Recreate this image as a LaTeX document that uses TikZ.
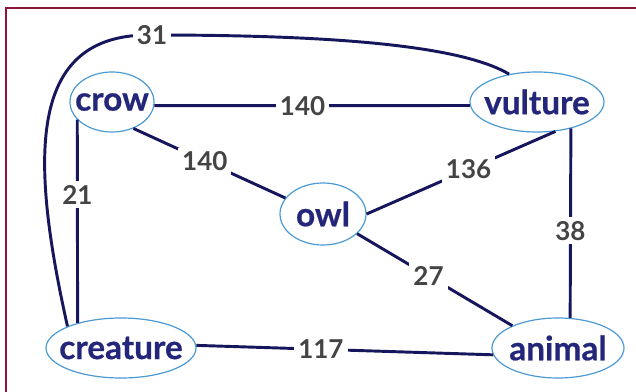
\documentclass[tikz,border=0pt]{standalone}
\usepackage{fontspec}
\setmainfont{Lato}
\newfontfamily\namefont[BoldFeatures={FakeBold=0.6}]{Lato}
\usetikzlibrary{shapes.geometric}
\definecolor{framecolor}{HTML}{8C1538}
\definecolor{edgecolor}{HTML}{16165C}
\definecolor{ringcolor}{HTML}{4C9AD4}
\definecolor{namecolor}{HTML}{24267A}
\definecolor{weightcolor}{HTML}{444444}
\tikzset{
  animalnode/.style={ellipse, draw=ringcolor, line width=0.9pt, inner xsep=-12pt,
    inner ysep=0pt, minimum height=45pt, text=namecolor,
    font=\namefont\bfseries\fontsize{25}{30}\selectfont},
  link/.style={draw=edgecolor, line width=2.2pt},
  weight/.style={fill=white, inner sep=3pt, text=weightcolor,
    font=\bfseries\fontsize{19.5}{22}\selectfont}
}

\begin{document}
\begin{tikzpicture}[x=0.75pt, y=-0.75pt]
  \useasboundingbox (0,0) rectangle (636,392);
  \clip (0,0) rectangle (636,392);
  \fill[white] (0,0) rectangle (636,392);
  \draw[framecolor, line width=2.2pt] (6,8) rectangle (660,420);

  % === ANIMALS ===
  \node[animalnode, minimum width=63pt] (crow) at (112,102) {crow};
  \node[animalnode, minimum width=100.5pt] (vulture) at (537,102) {vulture};
  \node[animalnode, minimum width=64.5pt, minimum height=46.5pt] (owl) at (323,214) {owl};
  \node[animalnode, minimum width=112.5pt] (creature) at (121,348) {creature};
  \node[animalnode, minimum width=99pt] (animal) at (558,348) {animal};

  \coordinate (top31) at (152,35);

  % === WEIGHTED LINKS ===
  \draw[link] (crow.355) -- node[weight, pos=0.47] (w-cv) {140} (vulture.183);
  \draw[link] (crow.309) -- node[weight, pos=0.47] (w-co) {140} (owl.157);
  \draw[link] (crow.207) -- node[weight, pos=0.37] (w-cc) {21} (creature.150);
  \draw[link] (owl.0) -- node[weight, pos=0.54] (w-ov) {136} (vulture.302);
  \draw[link] (vulture.322) -- node[weight, pos=0.54] (w-va) {38} (animal.68);
  \draw[link] (owl.330) -- node[weight, pos=0.46] (w-oa) {27} (animal.154);
  \draw[link] (creature.2) -- node[weight, pos=0.42] (w-ca) {117} (animal.186);

  % long way round, creature to vulture
  \draw[link] (creature.158) .. controls (28,150) and (30,33) .. (top31)
    node[weight] (w-top) {31}
    .. controls (330,35) and (460,45) .. (vulture.135);
\end{tikzpicture}
\end{document}
